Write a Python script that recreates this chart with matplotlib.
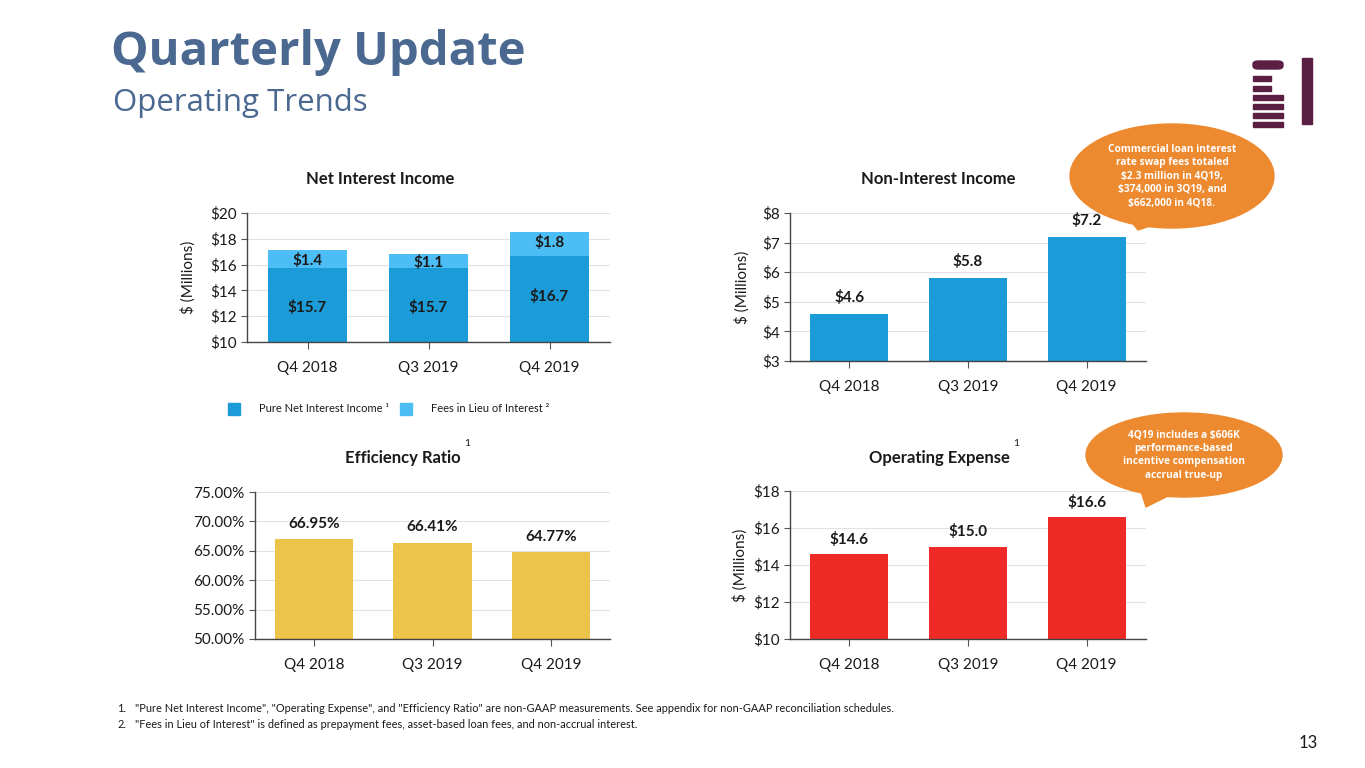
import numpy as np
import matplotlib.pyplot as plt
from matplotlib.patches import Ellipse, Polygon, FancyBboxPatch, Rectangle

plt.rcParams['font.family'] = ['Lato', 'DejaVu Sans']

# data
quarters = ['Q4 2018', 'Q3 2019', 'Q4 2019']
pure_nii = [15.7, 15.7, 16.7]
fees_lieu = [1.4, 1.1, 1.8]
non_ii = [4.6, 5.8, 7.2]
eff_ratio = [66.95, 66.41, 64.77]
opex = [14.6, 15.0, 16.6]

W, H = 1365, 768
fig = plt.figure(figsize=(W / 100, H / 100), dpi=100)

C_DARK = '#1b9bd7'
C_LIGHT = '#4dbdf5'
C_GOLD = '#ecc449'
C_RED = '#ee2a27'
C_ORANGE = '#ed8a2f'
C_TITLE = '#4a6890'
TXT = '#1a1a1a'


def px_axes(x0, y0, x1, y1):
    # pixel box (top-left origin) -> figure axes
    return fig.add_axes([x0 / W, 1 - y1 / H, (x1 - x0) / W, (y1 - y0) / H])


def style(ax, ymin, ymax, step, fmt):
    ax.set_ylim(ymin, ymax)
    ax.set_xlim(-0.5, 2.5)
    ticks = np.arange(ymin, ymax + step / 2, step)
    ax.set_yticks(ticks)
    ax.set_yticklabels([fmt(t) for t in ticks], fontsize=11, color=TXT)
    ax.set_xticks(range(3))
    ax.set_xticklabels(quarters, fontsize=11, color=TXT)
    ax.tick_params(axis='x', length=5, pad=9, color='#555555')
    ax.tick_params(axis='y', length=4, color='#555555')
    for s in ['top', 'right']:
        ax.spines[s].set_visible(False)
    for s in ['left', 'bottom']:
        ax.spines[s].set_color('#444444')
        ax.spines[s].set_linewidth(1.0)
    ax.grid(axis='y', color='#e2e2e2', linewidth=0.8)
    ax.set_axisbelow(True)
    ax.patch.set_alpha(0)


x = np.arange(3)
bw = 0.66

# Net Interest Income
ax1 = px_axes(247, 213, 610, 342)
ax1.bar(x, pure_nii, bw, color=C_DARK, zorder=2)
ax1.bar(x, fees_lieu, bw, bottom=pure_nii, color=C_LIGHT, zorder=2)
style(ax1, 10, 20, 2, lambda t: f'${t:.0f}')
for i in range(3):
    ax1.text(x[i], 12.7 if i < 2 else 13.5, f'${pure_nii[i]:.1f}', ha='center', va='center',
             fontsize=11, fontweight='bold', color=TXT)
    ax1.text(x[i], pure_nii[i] + fees_lieu[i] / 2 - 0.1 + (0.2 if i == 2 else 0),
             f'${fees_lieu[i]:.1f}', ha='center', va='center',
             fontsize=11, fontweight='bold', color=TXT)
ax1.set_ylabel('$ (Millions)', fontsize=11, color=TXT, labelpad=10)

# Non-Interest Income
ax2 = px_axes(790, 213, 1146, 361)
ax2.bar(x, non_ii, bw, color=C_DARK, zorder=2)
style(ax2, 3, 8, 1, lambda t: f'${t:.0f}')
for i in range(3):
    ax2.text(x[i], non_ii[i] + 0.55, f'${non_ii[i]:.1f}', ha='center', va='center',
             fontsize=11, fontweight='bold', color=TXT)
ax2.set_ylabel('$ (Millions)', fontsize=11, color=TXT, labelpad=9)

# Efficiency Ratio
ax3 = px_axes(255, 492, 610, 639)
ax3.bar(x, eff_ratio, bw, color=C_GOLD, zorder=2)
style(ax3, 50, 75, 5, lambda t: f'{t:.2f}%')
for i in range(3):
    ax3.text(x[i], eff_ratio[i] + 2.6, f'{eff_ratio[i]:.2f}%', ha='center', va='center',
             fontsize=11, fontweight='bold', color=TXT)

# Operating Expense
ax4 = px_axes(790, 491, 1146, 639)
ax4.bar(x, opex, bw, color=C_RED, zorder=2)
style(ax4, 10, 18, 2, lambda t: f'${t:.0f}')
for i in range(3):
    ax4.text(x[i], opex[i] + 0.8, f'${opex[i]:.1f}', ha='center', va='center',
             fontsize=11, fontweight='bold', color=TXT)
ax4.set_ylabel('$ (Millions)', fontsize=11, color=TXT, labelpad=4)


def ftext(px, py, s, **kw):
    fig.text(px / W, 1 - py / H, s, **kw)


# headings
ftext(111, 52, 'Quarterly Update', fontsize=34, fontweight='bold', color=C_TITLE,
      va='center', family=['Open Sans', 'DejaVu Sans'])
ftext(113, 103, 'Operating Trends', fontsize=22.5, color=C_TITLE, va='center',
      family=['Open Sans', 'DejaVu Sans'])

ftext(380, 179, 'Net Interest Income', fontsize=12, fontweight='bold', color=TXT, ha='center', va='center')
ftext(938, 179, 'Non-Interest Income', fontsize=12, fontweight='bold', color=TXT, ha='center', va='center')
ftext(403, 458, 'Efficiency Ratio', fontsize=12, fontweight='bold', color=TXT, ha='center', va='center')
ftext(939, 458, 'Operating Expense', fontsize=12, fontweight='bold', color=TXT, ha='center', va='center')
ftext(467, 443, '1', fontsize=7.5, color=TXT, ha='center', va='center')
ftext(1016, 443, '1', fontsize=7.5, color=TXT, ha='center', va='center')

# legend
for lx, col, lab in [(228, C_DARK, 'Pure Net Interest Income ¹'),
                     (400, C_LIGHT, 'Fees in Lieu of Interest ²')]:
    fig.add_artist(Rectangle((lx / W, 1 - 415 / H), 12 / W, 12 / H,
                             transform=fig.transFigure, color=col))
    ftext(lx + 31, 409, lab, fontsize=8, color=TXT, va='center')

# footnotes
ftext(117, 709, '1.', fontsize=7.9, color=TXT, va='center')
ftext(135, 709, '"Pure Net Interest Income", "Operating Expense", and "Efficiency Ratio" are non-GAAP '
      'measurements. See appendix for non-GAAP reconciliation schedules.', fontsize=7.9, color=TXT, va='center')
ftext(117, 725, '2.', fontsize=7.9, color=TXT, va='center')
ftext(135, 725, '"Fees in Lieu of Interest" is defined as prepayment fees, asset-based loan fees, '
      'and non-accrual interest.', fontsize=7.9, color=TXT, va='center')
ftext(1318, 743, '13', fontsize=12, color=TXT, ha='right', va='center')


# speech bubbles
def bubble(cx, cy, w, h, tail, text, fs):
    tr = fig.transFigure
    fig.add_artist(Ellipse((cx / W, 1 - cy / H), w / W, h / H, transform=tr,
                           color=C_ORANGE, zorder=5))
    pts = [(p[0] / W, 1 - p[1] / H) for p in tail]
    fig.add_artist(Polygon(pts, closed=True, transform=tr, color=C_ORANGE, zorder=5))
    fig.text(cx / W, 1 - cy / H, text, ha='center', va='center', fontsize=fs,
             fontweight='bold', color='white', linespacing=1.3, zorder=6,
             family=['Open Sans', 'DejaVu Sans'])


bubble(1172, 176, 204, 104, [(1122, 210), (1162, 222), (1138, 230)],
       'Commercial loan interest\nrate swap fees totaled\n$2.3 million in 4Q19,\n'
       '$374,000 in 3Q19, and\n$662,000 in 4Q18.', 7.3)
bubble(1184, 455, 196, 84, [(1138, 482), (1178, 491), (1146, 507)],
       '4Q19 includes a $606K\nperformance-based\nincentive compensation\naccrual true-up', 7.3)

# logo
LOGO = '#5a1f42'
tr = fig.transFigure
fig.add_artist(FancyBboxPatch((1253 / W, 1 - 69 / H), 30 / W, 8 / H, boxstyle='round,pad=0,rounding_size=0.004',
                              transform=tr, color=LOGO))
for yy, ww in [(76, 18), (86, 18), (95, 30), (104, 30), (113, 30), (122, 30)]:
    fig.add_artist(Rectangle((1253 / W, 1 - (yy + 5) / H), ww / W, 5 / H, transform=tr, color=LOGO))
fig.add_artist(Rectangle((1302 / W, 1 - 124 / H), 10 / W, 66 / H, transform=tr, color=LOGO))

fig.savefig('out.png', dpi=100)
